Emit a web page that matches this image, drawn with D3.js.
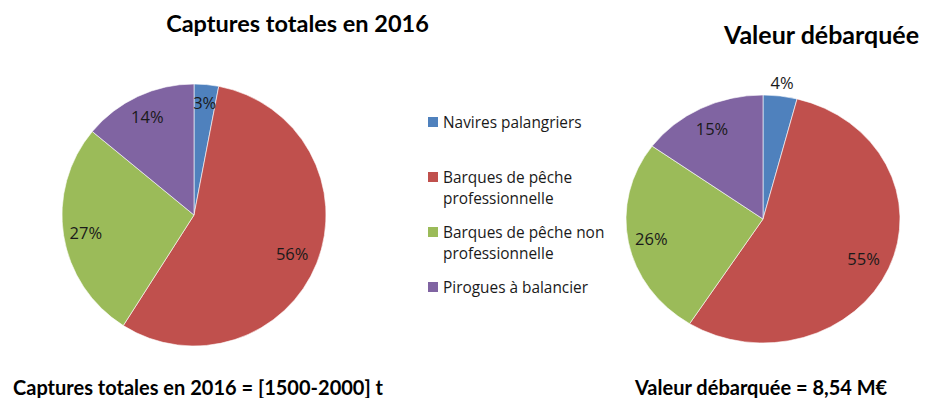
<!DOCTYPE html>
<html>
<head>
<meta charset="utf-8">
<script src="https://cdn.jsdelivr.net/npm/d3@7/dist/d3.min.js"></script>
<style>
  html, body { margin: 0; padding: 0; background: #fff; }
  svg { display: block; }
</style>
</head>
<body>
<svg id="chart" width="925" height="398"></svg>
<script>
// Fleet segments, in the order the slices run clockwise from 12 o'clock
const categories = [
  "Navires palangriers",
  "Barques de pêche professionnelle",
  "Barques de pêche non professionnelle",
  "Pirogues à balancier"
];
const legendLines = [
  ["Navires palangriers"],
  ["Barques de pêche", "professionnelle"],
  ["Barques de pêche non", "professionnelle"],
  ["Pirogues à balancier"]
];
// Share of total catch in 2016 (%)
const capturesShare = [3, 56, 27, 14];
// Share of landed value (%)
const valeurShare = [4, 55, 26, 15];

const titleCaptures = "Captures totales en 2016";
const titleValeur = "Valeur débarquée";
const footCaptures = "Captures totales en 2016 = [1500-2000] t";
const footValeur = "Valeur débarquée = 8,54 M€";

const palette = ["#4F81BD", "#C0504D", "#9BBB59", "#8064A2"];

const svg = d3.select("#chart");
const color = d3.scaleOrdinal().domain(categories).range(palette);
const pie = d3.pie().sort(null).value(d => d.value);

const boldFont = "Lato, 'Open Sans', sans-serif";
const labelFont = "'Open Sans', sans-serif";

function drawPie(values, cfg) {
  const data = pie(values.map((v, i) => ({ cat: categories[i], value: v })));
  const arc = d3.arc().innerRadius(0).outerRadius(cfg.ry);
  const g = svg.append("g");
  g.append("g")
    .attr("transform", `translate(${cfg.cx},${cfg.cy}) scale(${cfg.rx / cfg.ry},1)`)
    .selectAll("path")
    .data(data)
    .join("path")
    .attr("d", arc)
    .attr("fill", d => color(d.data.cat))
    .attr("stroke", "#ffffff")
    .attr("stroke-width", 0.6)
    .attr("vector-effect", "non-scaling-stroke");

  g.selectAll("text.lbl")
    .data(data)
    .join("text")
    .attr("class", "lbl")
    .attr("x", (d, i) => {
      const a = (d.startAngle + d.endAngle) / 2;
      return cfg.cx + cfg.rx * cfg.labelK[i] * Math.sin(a);
    })
    .attr("y", (d, i) => {
      const a = (d.startAngle + d.endAngle) / 2;
      return cfg.cy - cfg.ry * cfg.labelK[i] * Math.cos(a);
    })
    .attr("text-anchor", "middle")
    .attr("dominant-baseline", "central")
    .attr("font-family", labelFont)
    .attr("font-size", 16.5)
    .attr("fill", "#1a1a1a")
    .text(d => d.data.value + "%");
}

drawPie(capturesShare, { cx: 194, cy: 215, rx: 132, ry: 131, labelK: [0.86, 0.8, 0.83, 0.83] });
drawPie(valeurShare,   { cx: 763, cy: 219, rx: 137, ry: 124, labelK: [1.11, 0.8, 0.83, 0.82] });

// Titles
svg.append("text").attr("x", 297.5).attr("y", 32)
  .attr("text-anchor", "middle").attr("font-family", boldFont)
  .attr("font-weight", "bold").attr("font-size", 23.5).attr("fill", "#000")
  .text(titleCaptures);
svg.append("text").attr("x", 821.5).attr("y", 44)
  .attr("text-anchor", "middle").attr("font-family", boldFont)
  .attr("font-weight", "bold").attr("font-size", 25).attr("fill", "#000")
  .text(titleValeur);

// Footnotes with totals
svg.append("text").attr("x", 13).attr("y", 395)
  .attr("font-family", boldFont).attr("font-weight", "bold")
  .attr("font-size", 20).attr("fill", "#000").text(footCaptures);
svg.append("text").attr("x", 635).attr("y", 395)
  .attr("font-family", boldFont).attr("font-weight", "bold")
  .attr("font-size", 20).attr("fill", "#000").text(footValeur);

// Legend
const legend = svg.append("g").attr("transform", "translate(428,122)");
const item = legend.selectAll("g")
  .data(categories)
  .join("g")
  .attr("transform", (d, i) => `translate(0,${i * 55})`);
item.append("rect")
  .attr("x", 0).attr("y", -5).attr("width", 10).attr("height", 10)
  .attr("fill", d => color(d));
item.append("text")
  .attr("x", 15)
  .attr("font-family", labelFont)
  .attr("font-size", 15.4)
  .attr("fill", "#1a1a1a")
  .selectAll("tspan")
  .data((d, i) => legendLines[i])
  .join("tspan")
  .attr("x", 15)
  .attr("y", (d, j) => j * 21)
  .attr("dominant-baseline", "central")
  .text(d => d);
</script>
</body>
</html>
